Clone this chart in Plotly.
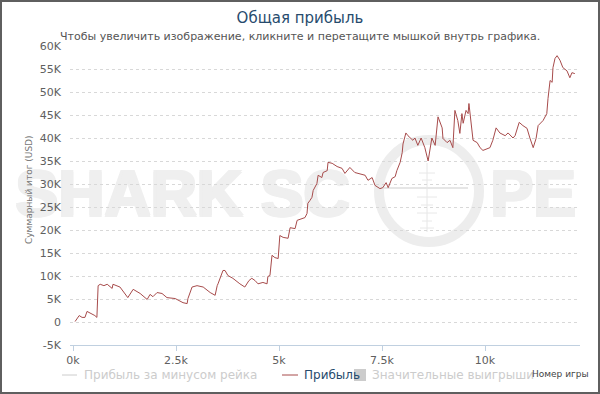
import plotly.graph_objects as go

# ---------------- data ----------------
games = [50, 150, 220, 290, 340, 460, 530, 580, 590, 610,
         660, 750, 830, 950, 970, 1140, 1330, 1460, 1630, 1800,
         1870, 1940, 2040, 2160, 2280, 2480, 2670, 2770, 2790, 2890,
         3010, 3080, 3160, 3330, 3450, 3500, 3520, 3640, 3690, 3760,
         3880, 4050, 4170, 4270, 4340, 4420, 4490, 4610, 4710, 4730,
         4780, 4830, 4900, 4980, 5020, 5100, 5220, 5270, 5390, 5440,
         5560, 5630, 5680, 5700, 5750, 5800, 5830, 5920, 5950, 6040,
         6070, 6170, 6190, 6290, 6410, 6530, 6600, 6720, 6840, 6970,
         7090, 7160, 7260, 7330, 7450, 7520, 7600, 7650, 7740, 7820,
         7860, 7940, 7990, 8010, 8080, 8130, 8180, 8250, 8300, 8370,
         8450, 8540, 8620, 8710, 8790, 8860, 8960, 8980, 9080, 9150,
         9220, 9270, 9340, 9390, 9440, 9470, 9540, 9590, 9610, 9680,
         9710, 9810, 9880, 9950, 10050, 10120, 10190, 10270, 10360, 10490,
         10560, 10680, 10730, 10830, 10920, 11020, 11090, 11170, 11240, 11290,
         11410, 11460, 11500, 11530, 11580, 11630, 11650, 11700, 11750, 11820,
         11890, 11990, 12060, 12110, 12180]

profit = [100, 1400, 1000, 1000, 2300, 1800, 1400, 1000, 6200, 7900,
          8200, 7900, 8200, 7300, 8200, 7600, 5300, 7100, 6200, 4900,
          6000, 5500, 6400, 6200, 5300, 5100, 4200, 4000, 5100, 7600,
          7900, 7800, 7600, 6400, 5800, 7900, 8300, 11200, 11200, 10100,
          9500, 8300, 7600, 9000, 9500, 9000, 8300, 8600, 8300, 9900,
          10100, 14500, 14000, 13800, 18800, 18400, 18200, 20500, 20300, 22100,
          22500, 22700, 23600, 25800, 26400, 27100, 28600, 30100, 31900, 31400,
          32500, 32900, 34700, 34500, 33800, 33400, 32300, 33600, 32500, 32100,
          31900, 30800, 31400, 29700, 29000, 29200, 30300, 29200, 31200, 31600,
          32900, 34700, 36800, 38700, 41100, 40500, 40000, 39500, 40000, 38400,
          40000, 37900, 35000, 40000, 38400, 44600, 42200, 39900, 39000, 39500,
          37900, 46000, 43800, 41000, 45300, 43200, 46000, 45300, 47500, 41600,
          39500, 39000, 37900, 37300, 37700, 37900, 39500, 42200, 41100, 40500,
          41100, 40000, 40500, 43400, 42700, 42100, 40000, 37900, 39900, 42700,
          43800, 44500, 45300, 48600, 52500, 52100, 55300, 57300, 57900, 56900,
          55300, 54600, 53100, 54200, 54000]

x_tickvals = [0, 2500, 5000, 7500, 10000]
x_ticktext = ["0k", "2.5k", "5k", "7.5k", "10k"]
y_tickvals = [-5000, 0, 5000, 10000, 15000, 20000, 25000, 30000,
              35000, 40000, 45000, 50000, 55000, 60000]
y_ticktext = ["-5K", "0", "5K", "10K", "15K", "20K", "25K", "30K",
              "35K", "40K", "45K", "50K", "55K", "60K"]

title_text = "Общая прибыль"
subtitle_text = "Чтобы увеличить изображение, кликните и перетащите мышкой внутрь графика."
y_title = "Суммарный итог (USD)"
x_title = "Номер игры"
legend_names = ["Прибыль за минусом рейка", "Прибыль", "Значительные выигрыши"]

# ---------------- layout helpers ----------------
W, H = 600, 394
L, R, T, B = 70, 20, 46, 49
PW, PH = W - L - R, H - T - B
FONT = "DejaVu Sans"
LINE_COLOR = "#a74b4b"
HIDDEN = "#cccccc"


def px(x):
    return (x - L) / PW


def py(y):
    return (H - B - y) / PH


fig = go.Figure()
fig.add_trace(go.Scatter(
    x=games, y=profit, mode="lines", name=legend_names[1],
    line=dict(color=LINE_COLOR, width=1), showlegend=False,
    hovertemplate="%{x}: %{y}<extra></extra>"))

shapes = []
annotations = []

# watermark (drawn below grid); heavy weight emulated by small offset copies
WM = "#efefef"
WM_FONT = dict(family="Liberation Sans", size=64, color=WM, weight=700)
for dx in (0, 1.5, 3):
    for dy in (0, 1.5):
        for txt, left, right in (("SHARK SC", 11, 380), ("PE", 486, 580)):
            shapes.append(dict(type="rect", xref="paper", yref="paper",
                               x0=px(left + dx), x1=px(right + dx),
                               y0=py(212 + dy), y1=py(162 + dy),
                               line=dict(width=0), fillcolor="rgba(0,0,0,0)", layer="below",
                               label=dict(text=txt, textposition="middle left", padding=0,
                                          font=WM_FONT)))
shapes.append(dict(type="circle", xref="paper", yref="paper",
                   x0=px(379), x1=px(479), y0=py(242), y1=py(140),
                   line=dict(color="#ededed", width=10), layer="below"))
shapes.append(dict(type="line", xref="paper", yref="paper",
                   x0=px(427), x1=px(427), y0=py(232), y1=py(163),
                   line=dict(color="#e6e6e6", width=1), layer="below"))
shapes.append(dict(type="line", xref="paper", yref="paper",
                   x0=px(383), x1=px(468), y0=py(188), y1=py(188),
                   line=dict(color="#e6e6e6", width=2), layer="below"))
for yy, hw in [(173, 8), (180, 5), (197, 10), (205, 6), (213, 10), (221, 5), (228, 7)]:
    shapes.append(dict(type="line", xref="paper", yref="paper",
                       x0=px(427 - hw), x1=px(427 + hw), y0=py(yy), y1=py(yy),
                       line=dict(color="#e8e8e8", width=1), layer="below"))

# outer border
shapes.append(dict(type="rect", xref="paper", yref="paper",
                   x0=px(1), x1=px(599), y0=py(393), y1=py(1),
                   line=dict(color="#5f5f5f", width=2), layer="above"))

# manual legend
LY = 375
shapes.append(dict(type="line", xref="paper", yref="paper",
                   x0=px(62), x1=px(77), y0=py(LY), y1=py(LY),
                   line=dict(color=HIDDEN, width=1)))
annotations.append(dict(text=legend_names[0], x=px(82), y=py(LY), xref="paper", yref="paper",
                        xanchor="left", yanchor="middle", showarrow=False,
                        font=dict(family=FONT, size=12, color=HIDDEN)))
shapes.append(dict(type="line", xref="paper", yref="paper",
                   x0=px(282), x1=px(298), y0=py(LY), y1=py(LY),
                   line=dict(color=LINE_COLOR, width=1)))
annotations.append(dict(text=legend_names[1], x=px(302), y=py(LY), xref="paper", yref="paper",
                        xanchor="left", yanchor="middle", showarrow=False,
                        font=dict(family=FONT, size=12, color="#274b6d")))
shapes.append(dict(type="rect", xref="paper", yref="paper",
                   x0=px(354), x1=px(366), y0=py(381), y1=py(369),
                   fillcolor=HIDDEN, line=dict(width=0)))
annotations.append(dict(text=legend_names[2], x=px(370), y=py(LY), xref="paper", yref="paper",
                        xanchor="left", yanchor="middle", showarrow=False,
                        font=dict(family=FONT, size=12, color=HIDDEN)))

# axis titles and subtitle
annotations.append(dict(text=x_title, x=px(591), y=py(374), xref="paper", yref="paper",
                        xanchor="right", yanchor="middle", showarrow=False,
                        font=dict(family=FONT, size=9, color="#444444")))
annotations.append(dict(text=y_title, x=px(29), y=py(190), xref="paper", yref="paper",
                        xanchor="center", yanchor="middle", showarrow=False, textangle=-90,
                        font=dict(family=FONT, size=9, color="#777777")))
annotations.append(dict(text=subtitle_text, x=px(300), y=py(36), xref="paper", yref="paper",
                        xanchor="center", yanchor="middle", showarrow=False,
                        font=dict(family=FONT, size=11, color="#555555")))

fig.update_layout(
    width=W, height=H,
    margin=dict(l=L, r=R, t=T, b=B, pad=0),
    paper_bgcolor="white", plot_bgcolor="white",
    title=dict(text=title_text, x=0.5, xref="container", xanchor="center",
               y=1 - 18 / H, yref="container", yanchor="middle",
               font=dict(family=FONT, size=15, color="#274b6d")),
    showlegend=False,
    shapes=shapes, annotations=annotations,
    xaxis=dict(range=[-73, 12306], tickvals=x_tickvals, ticktext=x_ticktext,
               showgrid=False, zeroline=False, showline=True, linecolor="#c0d0e0",
               ticks="outside", ticklen=5, tickcolor="#c0d0e0",
               tickfont=dict(family=FONT, size=11, color="#606060")),
    yaxis=dict(range=[-5000, 60000], tickvals=y_tickvals, ticktext=y_ticktext,
               showgrid=True, gridcolor="#d8d8d8", griddash="3px,3px", gridwidth=1,
               zeroline=False, showline=False, ticks="", ticklabelstandoff=8,
               tickfont=dict(family=FONT, size=11, color="#606060")),
)

fig.write_html("out.html", config={"displayModeBar": False},
               post_script="document.body.style.margin='0';document.body.style.overflow='hidden';")
